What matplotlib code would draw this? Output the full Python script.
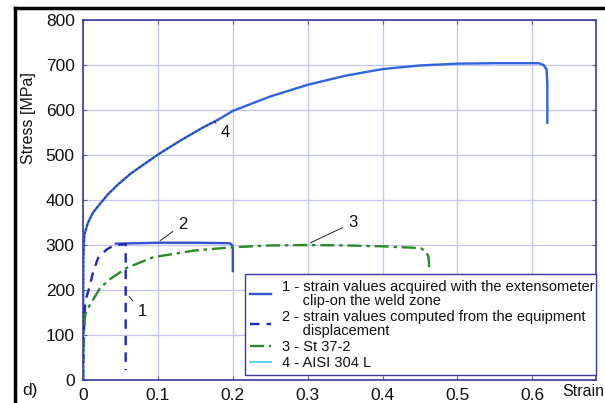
import matplotlib
matplotlib.use("Agg")
import matplotlib.pyplot as plt
from matplotlib.lines import Line2D

plt.rcParams['font.family'] = ['Liberation Sans', 'DejaVu Sans']

# Curve 4 - AISI 304 L
s4_strain = [0, 0.0002, 0.0005, 0.001, 0.002, 0.0067, 0.0133, 0.022, 0.033, 0.047, 0.064,
             0.082, 0.1, 0.13, 0.16, 0.18, 0.2, 0.25, 0.3, 0.35, 0.4, 0.45, 0.5, 0.55, 0.6,
             0.609, 0.615, 0.619, 0.62, 0.62]
s4_stress = [0, 150, 270, 300, 324, 350, 372, 390, 412, 435, 459,
             480, 501, 532, 561, 578, 598, 630, 656, 676, 691, 699, 703, 704, 704,
             704, 700, 690, 660, 571]

# Curve 1 - extensometer (solid)
s1_strain = [0.044, 0.1, 0.15, 0.196, 0.199, 0.2, 0.2]
s1_stress = [303, 305, 305, 304, 300, 290, 242]

# Curve 2 - equipment displacement (dashed)
s2_strain = [0, 0.001, 0.003, 0.0084, 0.0138, 0.0204, 0.0316, 0.040, 0.051, 0.057, 0.057]
s2_stress = [0, 100, 175, 205, 242, 272, 290, 298, 301, 302, 22]

# Curve 3 - St 37-2 (dash-dot)
s3_strain = [0, 0.001, 0.003, 0.005, 0.014, 0.023, 0.036, 0.058, 0.094, 0.15, 0.2,
             0.25, 0.3, 0.35, 0.4, 0.44, 0.452, 0.458, 0.461, 0.462, 0.462]
s3_stress = [0, 110, 145, 155, 180, 205, 224, 249, 273, 288, 295,
             299, 300, 299, 297, 294, 292, 285, 275, 262, 250]

x_ticks = [0, 0.1, 0.2, 0.3, 0.4, 0.5, 0.6]
x_ticklabels = ['0', '0.1', '0.2', '0.3', '0.4', '0.5', '0.6']
y_ticks = [0, 100, 200, 300, 400, 500, 600, 700, 800]

legend_labels = [
    "1 - strain values acquired with the extensometer\n     clip-on the weld zone",
    "2 - strain values computed from the equipment\n     displacement",
    "3 - St 37-2",
    "4 - AISI 304 L",
]

fig = plt.figure(figsize=(6.05, 4.03), dpi=100)
W, H = 605, 403
ax = fig.add_axes([83 / W, 1 - 380 / H, (596 - 83) / W, (380 - 20) / H])

c_spine = '#3a3aa0'
c_grid = '#c4c4f0'
c4 = '#2f64dc'
c1 = '#3352d0'
c2 = '#2525b5'
c3 = '#2a8a2a'
c4leg = '#40c8e8'

ax.plot(s4_strain, s4_stress, color=c4, lw=1.7, solid_capstyle='round', zorder=3)
n_dark = 16
ax.plot(s4_strain[:n_dark], s4_stress[:n_dark], color='#1a1a50', lw=1.0,
        ls=(0, (1.5, 1.5)), alpha=0.6, zorder=4)
ax.plot(s1_strain, s1_stress, color=c1, lw=1.7, zorder=3)
ax.plot(s2_strain, s2_stress, color=c2, lw=1.7, ls=(0, (4, 3)), zorder=3)
ax.plot(s3_strain, s3_stress, color=c3, lw=1.7, ls=(0, (6, 2, 1.5, 2)), zorder=3)

ax.set_xlim(0, 0.685)
ax.set_ylim(0, 800)
ax.set_xticks(x_ticks)
ax.set_xticklabels(x_ticklabels)
ax.set_yticks(y_ticks)
ax.grid(True, color=c_grid, lw=0.9)
ax.set_axisbelow(True)
for sp in ax.spines.values():
    sp.set_color(c_spine)
    sp.set_linewidth(1.2)
ax.tick_params(direction='in', length=3, color='#606080', labelsize=12.5,
               labelcolor='#111111', pad=6, top=True, right=True)

# annotations
akw = dict(arrowprops=dict(arrowstyle='-', color='#222222', lw=0.7), fontsize=12,
           ha='center', va='center', color='#111111')
ax.annotate('2', xy=(0.1, 306), xytext=(0.133, 346), **akw)
ax.annotate('1', xy=(0.059, 190), xytext=(0.079, 153), **akw)
ax.annotate('3', xy=(0.3, 302), xytext=(0.36, 349), **akw)
ax.annotate('4', xy=(0.175, 575), xytext=(0.19, 549), **akw)

handles = [
    Line2D([], [], color=c1, lw=1.7),
    Line2D([], [], color=c2, lw=1.7, ls=(0, (4, 3))),
    Line2D([], [], color=c3, lw=1.7, ls=(0, (6, 2, 1.5, 2))),
    Line2D([], [], color=c4leg, lw=1.2),
]
leg = ax.legend(handles, legend_labels, loc='lower left',
                bbox_to_anchor=(0.316, 0.014, 0.684, 0.28), mode='expand',
                fontsize=10.5, frameon=True, fancybox=False, handlelength=1.45,
                handletextpad=0.7, labelspacing=0.12, borderpad=0.35,
                borderaxespad=0.0)
leg.get_frame().set_edgecolor(c_spine)
leg.get_frame().set_linewidth(1.0)
leg.get_frame().set_alpha(1)
for t in leg.get_texts():
    t.set_linespacing(1.05)
    t.set_color('#111111')

fig.text(28 / W, 1 - 118 / H, 'Stress [MPa]', rotation=90, ha='center', va='center',
         fontsize=11.5, color='#111111')
fig.text(30 / W, 1 - 391 / H, 'd)', ha='center', va='center', fontsize=12.5, color='#111111')
fig.text(583 / W, 1 - 392 / H, 'Strain', ha='center', va='center', fontsize=11.5,
         color='#111111')

# outer frame lines
fig.add_artist(Line2D([15 / W, 15 / W], [0, 1 - 8 / H], color='black', lw=2.5,
                      transform=fig.transFigure))
fig.add_artist(Line2D([15 / W, 1], [1 - 8 / H, 1 - 8 / H], color='black', lw=2.5,
                      transform=fig.transFigure))

fig.savefig('out.png', dpi=100)
